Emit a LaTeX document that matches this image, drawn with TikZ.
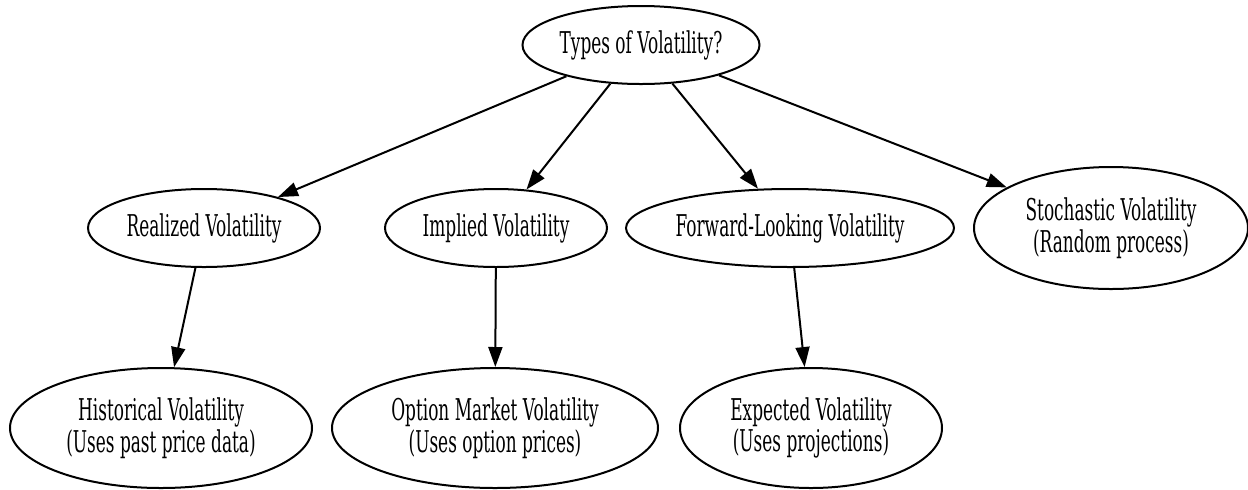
\documentclass[tikz,border=0pt]{standalone}
\usepackage{fontspec}
\setmainfont{DejaVu Serif}[FakeStretch=0.565]
\usetikzlibrary{shapes.geometric,arrows.meta}

\begin{document}
\begin{tikzpicture}[x=0.5pt,y=-0.5pt,
  topic/.style={draw,ellipse,line width=1pt,inner sep=0pt,align=center,
    font=\fontsize{15}{14.5}\selectfont},
  link/.style={line width=1pt,-{Triangle[length=10pt,width=7pt]}}]
\useasboundingbox (0,0) rectangle (1248,489);

% Question at the top
\node[topic,minimum width=118.5pt,minimum height=39pt] (types) at (641,45) {Types of Volatility?};

% Second row
\node[topic,minimum width=116pt,minimum height=39pt] (realized) at (204,228) {Realized Volatility};
\node[topic,minimum width=111pt,minimum height=39pt] (implied) at (496,228) {Implied Volatility};
\node[topic,minimum width=164pt,minimum height=39pt] (forward) at (790,228) {Forward-Looking Volatility};
\node[topic,minimum width=137pt,minimum height=61pt] (stochastic) at (1111,228) {Stochastic Volatility\\(Random process)};

% Third row
\node[topic,minimum width=151pt,minimum height=60pt] (historical) at (161,428) {Historical Volatility\\(Uses past price data)};
\node[topic,minimum width=163pt,minimum height=60pt] (option) at (495,428) {Option Market Volatility\\(Uses option prices)};
\node[topic,minimum width=131pt,minimum height=60pt] (expected) at (811,428) {Expected Volatility\\(Uses projections)};

\draw[link] (types) -- (realized);
\draw[link] (types) -- (implied);
\draw[link] (types) -- (forward);
\draw[link] (types) -- (stochastic);

\draw[link] (realized) -- (historical);
\draw[link] (implied) -- (option);
\draw[link] (forward) -- (expected);
\end{tikzpicture}
\end{document}
